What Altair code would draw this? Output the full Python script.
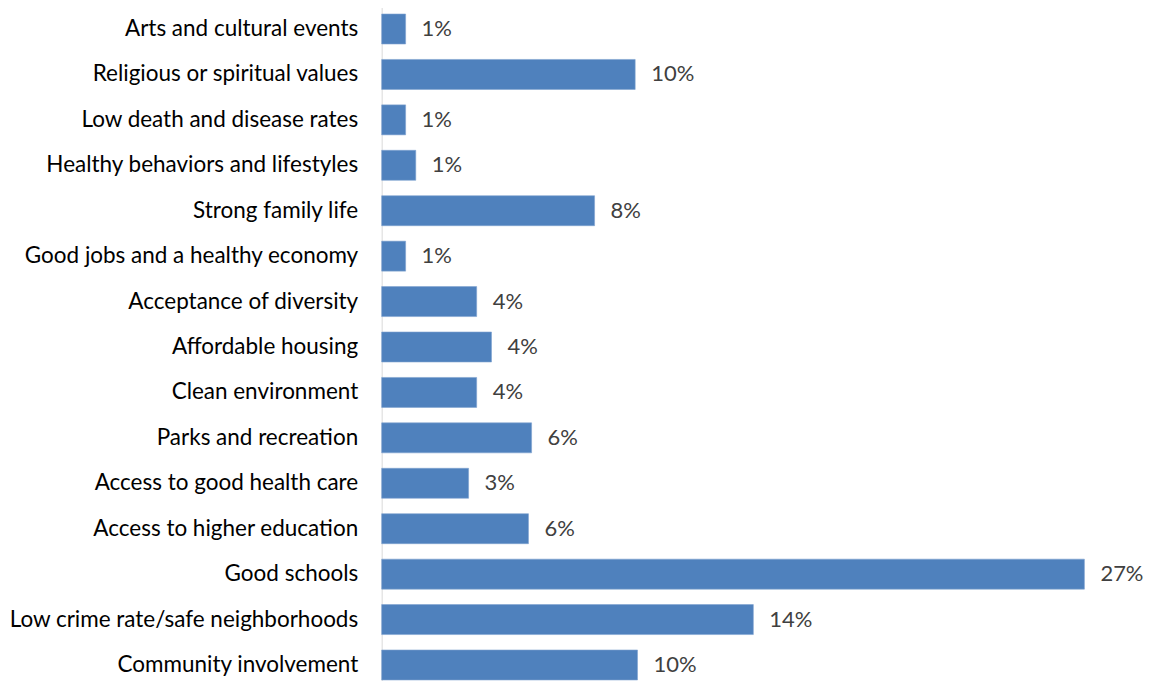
import altair as alt
import pandas as pd

categories = [
    "Arts and cultural events",
    "Religious or spiritual values",
    "Low death and disease rates",
    "Healthy behaviors and lifestyles",
    "Strong family life",
    "Good jobs and a healthy economy",
    "Acceptance of diversity",
    "Affordable housing",
    "Clean environment",
    "Parks and recreation",
    "Access to good health care",
    "Access to higher education",
    "Good schools",
    "Low crime rate/safe neighborhoods",
    "Community involvement",
]
values = [0.92, 9.74, 0.92, 1.31, 8.18, 0.92, 3.65, 4.22, 3.65, 5.76, 3.34, 5.64, 27.0, 14.28, 9.83]

df = pd.DataFrame({"category": categories, "value": values})

FONT = "Lato"

y_enc = alt.Y(
    "category:N",
    sort=categories,
    title=None,
    scale=alt.Scale(paddingInner=0.34, paddingOuter=0.17, range=[-2, 680]),
    axis=alt.Axis(
        ticks=False,
        labelPadding=24,
        labelFont=FONT,
        labelFontSize=22.5,
        labelColor="#000000",
        labelLimit=400,
        domainColor="#D9D9D9",
        domainWidth=1,
        grid=False,
        minExtent=373,
        maxExtent=373,
    ),
)
x_enc = alt.X(
    "value:Q",
    title=None,
    axis=None,
    scale=alt.Scale(domain=[0, 29.29], nice=False, zero=True),
)

base = alt.Chart(df).encode(y=y_enc, x=x_enc)

bars = base.mark_bar(color="#4F81BD", stroke="#7FA3D0", strokeWidth=0.6)

labels = base.transform_calculate(
    label="format(datum.value, '.0f') + '%'"
).mark_text(
    align="left", baseline="middle", dx=16, font=FONT, fontSize=22, color="#404040"
).encode(text="label:N")

chart = (
    alt.layer(bars, labels)
    .properties(
        width=763,
        height=673,
        background="white",
        padding={"left": 0, "top": 0, "right": 0, "bottom": 0},
    )
    .configure_view(strokeWidth=0, strokeOpacity=0)
)

chart.save("out.html", embed_options={"renderer": "svg", "actions": False})
